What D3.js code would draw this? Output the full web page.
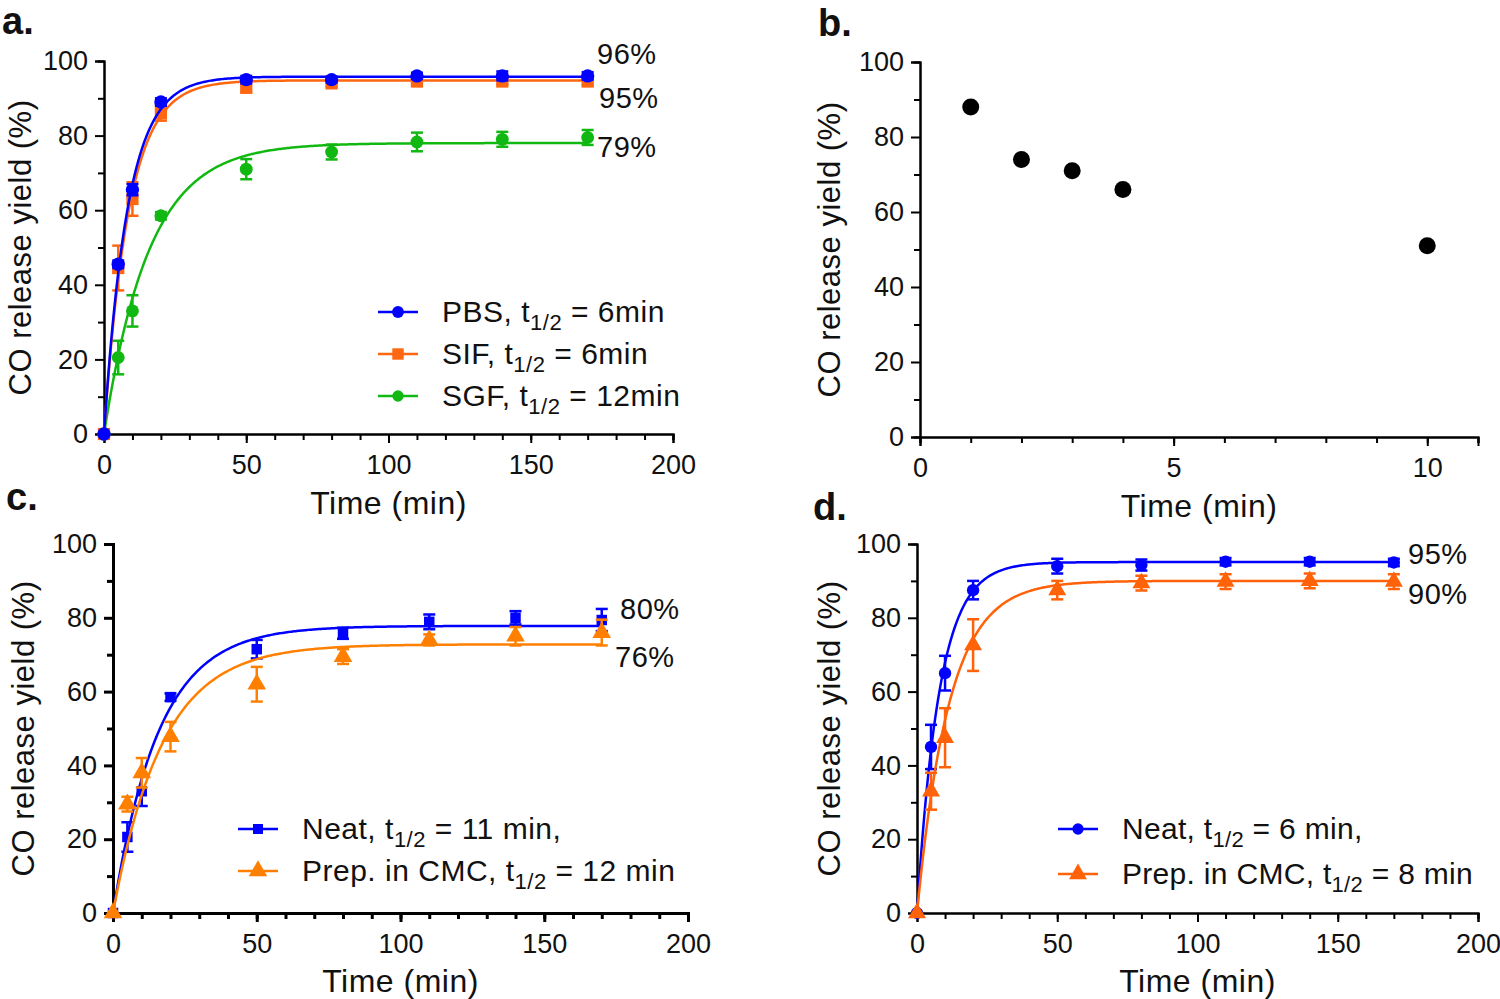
<!DOCTYPE html>
<html><head><meta charset="utf-8">
<script src="https://cdn.jsdelivr.net/npm/d3@7"></script>
<style>body{margin:0;background:#fff}svg{display:block}text{font-family:"Liberation Sans",Arial,sans-serif;fill:#111}</style>
</head><body>
<svg id="chart" width="1500" height="999"></svg>
<script>
// ---------- DATA ----------
const timePoints = [0, 5, 10, 20, 50, 80, 110, 140, 170];
// panel a
const aPBS = [0, 45.5, 65.5, 89, 95, 95, 96, 96, 96];
const aPBSerr = [0, 1, 1.5, 1, 1, 0.8, 0.8, 1.2, 1];
const aSIF = [0, 44.5, 63, 86, 93, 94, 94.5, 94.5, 94.5];
const aSIFerr = [0, 6, 4.5, 2, 1.5, 0.8, 0.8, 0.8, 1];
const aSGF = [0, 20.5, 33, 58.5, 71, 75.6, 78.3, 79, 79.5];
const aSGFerr = [0, 4.5, 4.2, 1, 2.7, 2, 2.5, 2, 2];
const aPlateau = [95.8, 94.8, 78];
const aRate = [0.12, 0.115, 0.063];
const aLabels = ["96%", "95%", "79%"];
// panel b
const bTime = [1, 2, 3, 4, 10];
const bYield = [88, 74, 71, 66, 51];
// panel c
const cNeat = [0, 20.6, 33, 58.5, 71.5, 75.8, 78.9, 80, 79.4];
const cNeatErr = [0, 4, 4, 1, 2.5, 1.5, 2, 1.8, 3];
const cCMC = [0, 29.5, 38, 47.8, 62, 69.5, 74, 75, 76];
const cCMCerr = [0, 2, 4, 4, 4.7, 2, 1.5, 2.5, 3.5];
const cPlateau = [77.8, 72.8];
const cRate = [0.063, 0.058];
const cLabels = ["80%", "76%"];
// panel d
const dNeat = [0, 45, 65, 87.5, 94, 94.3, 95.2, 95.2, 95];
const dNeatErr = [0, 6, 4.7, 2.5, 2, 1.5, 1, 1, 1];
const dCMC = [0, 33, 47.5, 72.6, 87.5, 89.4, 89.8, 90, 89.8];
const dCMCerr = [0, 5, 8, 7, 2.5, 2, 2, 2, 2];
const dPlateau = [95.1, 90];
const dRate = [0.125, 0.087];
const dLabels = ["95%", "90%"];
// ticks
const xTicksTime = [0, 50, 100, 150, 200];
const xTicksB = [0, 5, 10];
const yTicks = [0, 20, 40, 60, 80, 100];

const svg = d3.select("#chart");
const BLUE = "#0000ff", ORANGE_A = "#ff6610", GREEN = "#12b812", ORANGE_C = "#ff8000", ORANGE_D = "#ff6208";

function symbolPath(shape, size) {
  const t = shape === "circle" ? d3.symbolCircle : shape === "square" ? d3.symbolSquare : d3.symbolTriangle;
  return d3.symbol().type(t).size(size)();
}

function drawAxes(cfg) {
  const g = svg.append("g");
  const {x, y, axisW} = cfg;
  const xa = d3.axisBottom(x).tickValues(cfg.xMinor).tickSize(cfg.minorLen).tickFormat("");
  const gx1 = g.append("g").attr("transform", `translate(0,${y(0)})`).call(xa);
  const gx2 = g.append("g").attr("transform", `translate(0,${y(0)})`)
    .call(d3.axisBottom(x).tickValues(cfg.xTicks).tickSize(cfg.majorLen).tickPadding(12));
  const gy1 = g.append("g").attr("transform", `translate(${x(0)},0)`)
    .call(d3.axisLeft(y).tickValues([10, 30, 50, 70, 90]).tickSize(cfg.minorLen).tickFormat(""));
  const gy2 = g.append("g").attr("transform", `translate(${x(0)},0)`)
    .call(d3.axisLeft(y).tickValues(yTicks).tickSize(cfg.majorLen).tickPadding(7));
  [gx1, gx2, gy1, gy2].forEach(a => {
    a.select(".domain").attr("stroke", "#000").attr("stroke-width", axisW);
    a.selectAll(".tick line").attr("stroke", "#000").attr("stroke-width", axisW);
    a.selectAll(".tick text").attr("font-size", 27).attr("fill", "#111")
      .style("font-family", "Liberation Sans, Arial, sans-serif");
  });
  gx2.selectAll(".tick text").attr("dy", "0.71em");
  // titles
  g.append("text").attr("x", (x.range()[0] + x.range()[1]) / 2).attr("y", cfg.xTitleY)
    .attr("text-anchor", "middle").attr("font-size", 32).attr("letter-spacing", 0.5).text("Time (min)");
  g.append("text").attr("transform", `translate(${cfg.yTitleX},${(y.range()[0] + y.range()[1]) / 2}) rotate(-90)`)
    .attr("text-anchor", "middle").attr("font-size", 31).attr("letter-spacing", 0.5).text("CO release yield (%)");
  g.append("text").attr("x", cfg.letter[0]).attr("y", cfg.letter[1]).attr("font-size", 38)
    .attr("font-weight", "bold").text(cfg.letter[2]);
}

function drawSeries(x, y, s) {
  const g = svg.append("g");
  // fit curve
  const fitT = d3.range(0, 170.01, 0.5);
  g.append("path").datum(fitT).attr("fill", "none").attr("stroke", s.color).attr("stroke-width", 2.5)
    .attr("d", d3.line().x(t => x(t)).y(t => y(s.plateau * (1 - Math.exp(-s.rate * t)))));
  const pts = timePoints.map((t, i) => ({t, v: s.values[i], e: s.err[i]}));
  // error bars
  const eb = g.selectAll(".eb").data(pts.filter(p => p.e > 0)).enter().append("g");
  eb.append("line").attr("x1", p => x(p.t)).attr("x2", p => x(p.t))
    .attr("y1", p => y(p.v - p.e)).attr("y2", p => y(p.v + p.e)).attr("stroke", s.color).attr("stroke-width", 2.5);
  [1, -1].forEach(sg => eb.append("line").attr("x1", p => x(p.t) - 6).attr("x2", p => x(p.t) + 6)
    .attr("y1", p => y(p.v + sg * p.e)).attr("y2", p => y(p.v + sg * p.e)).attr("stroke", s.color).attr("stroke-width", 2.5));
  // markers
  g.selectAll(".m").data(pts).enter().append("path")
    .attr("transform", p => `translate(${x(p.t)},${y(p.v)})`)
    .attr("d", symbolPath(s.shape, s.size)).attr("fill", s.color);
}

function legend(items, lx, ly, gap, ls) {
  items.forEach((it, i) => {
    const g = svg.append("g").attr("transform", `translate(${lx},${ly + i * gap})`);
    g.append("line").attr("x1", 0).attr("x2", 40).attr("stroke", it.color).attr("stroke-width", 2.5);
    g.append("path").attr("transform", "translate(20,0)").attr("d", symbolPath(it.shape, it.size)).attr("fill", it.color);
    const t = g.append("text").attr("x", 64).attr("y", 10).attr("font-size", 30).attr("letter-spacing", ls);
    t.append("tspan").text(it.pre + "t");
    t.append("tspan").attr("font-size", 22).attr("dy", 8).text("1/2");
    t.append("tspan").attr("dy", -8).text(it.post);
  });
}

function endLabels(labels, xs, ys) {
  labels.forEach((l, i) => svg.append("text").attr("x", xs[i]).attr("y", ys[i]).attr("font-size", 29)
    .attr("letter-spacing", 0.5).attr("fill", "#222").text(l));
}

// ---------- PANEL A ----------
{
  const x = d3.scaleLinear().domain([0, 200]).range([104, 673]);
  const y = d3.scaleLinear().domain([0, 100]).range([434, 61]);
  drawAxes({x, y, axisW: 2, xTicks: xTicksTime, xMinor: d3.range(0, 201, 10), minorLen: 6, majorLen: 9,
    xTitleY: 514, yTitleX: 31, letter: [2, 34, "a."]});
  const series = [
    {values: aSGF, err: aSGFerr, color: GREEN, shape: "circle", size: 130, plateau: aPlateau[2], rate: aRate[2]},
    {values: aSIF, err: aSIFerr, color: ORANGE_A, shape: "square", size: 150, plateau: aPlateau[1], rate: aRate[1]},
    {values: aPBS, err: aPBSerr, color: BLUE, shape: "circle", size: 140, plateau: aPlateau[0], rate: aRate[0]}
  ];
  series.forEach(s => drawSeries(x, y, s));
  legend([
    {color: BLUE, shape: "circle", size: 110, pre: "PBS, ", post: " = 6min"},
    {color: ORANGE_A, shape: "square", size: 130, pre: "SIF, ", post: " = 6min"},
    {color: GREEN, shape: "circle", size: 100, pre: "SGF, ", post: " = 12min"}
  ], 378, 312, 42, 0.5);
  endLabels(aLabels, [597, 599, 597], [64, 108, 157]);
}

// ---------- PANEL B ----------
{
  const x = d3.scaleLinear().domain([0, 11]).range([920, 1478]);
  const y = d3.scaleLinear().domain([0, 100]).range([437, 62]);
  drawAxes({x, y, axisW: 2, xTicks: xTicksB, xMinor: d3.range(0, 12, 1), minorLen: 6, majorLen: 9,
    xTitleY: 517, yTitleX: 840, letter: [818, 36, "b."]});
  svg.append("g").selectAll("circle").data(bTime.map((t, i) => ({t, v: bYield[i]}))).enter().append("circle")
    .attr("cx", p => x(p.t)).attr("cy", p => y(p.v)).attr("r", 8.5).attr("fill", "#000");
}

// ---------- PANEL C ----------
{
  const x = d3.scaleLinear().domain([0, 200]).range([113, 688]);
  const y = d3.scaleLinear().domain([0, 100]).range([913, 544]);
  drawAxes({x, y, axisW: 3, xTicks: xTicksTime, xMinor: d3.range(0, 201, 10), minorLen: 6, majorLen: 9,
    xTitleY: 992, yTitleX: 34, letter: [6, 510, "c."]});
  drawSeries(x, y, {values: cNeat, err: cNeatErr, color: BLUE, shape: "square", size: 110, plateau: cPlateau[0], rate: cRate[0]});
  drawSeries(x, y, {values: cCMC, err: cCMCerr, color: ORANGE_C, shape: "triangle", size: 150, plateau: cPlateau[1], rate: cRate[1]});
  legend([
    {color: BLUE, shape: "square", size: 100, pre: "Neat, ", post: " = 11 min,"},
    {color: ORANGE_C, shape: "triangle", size: 150, pre: "Prep. in CMC, ", post: " = 12 min"}
  ], 238, 829, 42, 0.5);
  endLabels(cLabels, [620, 615], [619, 667]);
}

// ---------- PANEL D ----------
{
  const x = d3.scaleLinear().domain([0, 200]).range([917, 1478]);
  const y = d3.scaleLinear().domain([0, 100]).range([913, 544]);
  drawAxes({x, y, axisW: 2, xTicks: xTicksTime, xMinor: d3.range(0, 201, 10), minorLen: 6, majorLen: 9,
    xTitleY: 992, yTitleX: 840, letter: [813, 520, "d."]});
  drawSeries(x, y, {values: dNeat, err: dNeatErr, color: BLUE, shape: "circle", size: 120, plateau: dPlateau[0], rate: dRate[0]});
  drawSeries(x, y, {values: dCMC, err: dCMCerr, color: ORANGE_D, shape: "triangle", size: 140, plateau: dPlateau[1], rate: dRate[1]});
  legend([
    {color: BLUE, shape: "circle", size: 100, pre: "Neat, ", post: " = 6 min,"},
    {color: ORANGE_D, shape: "triangle", size: 140, pre: "Prep. in CMC, ", post: " = 8 min"}
  ], 1058, 829, 45, 0.3);
  endLabels(dLabels, [1408, 1408], [564, 604]);
}
</script>
</body></html>
